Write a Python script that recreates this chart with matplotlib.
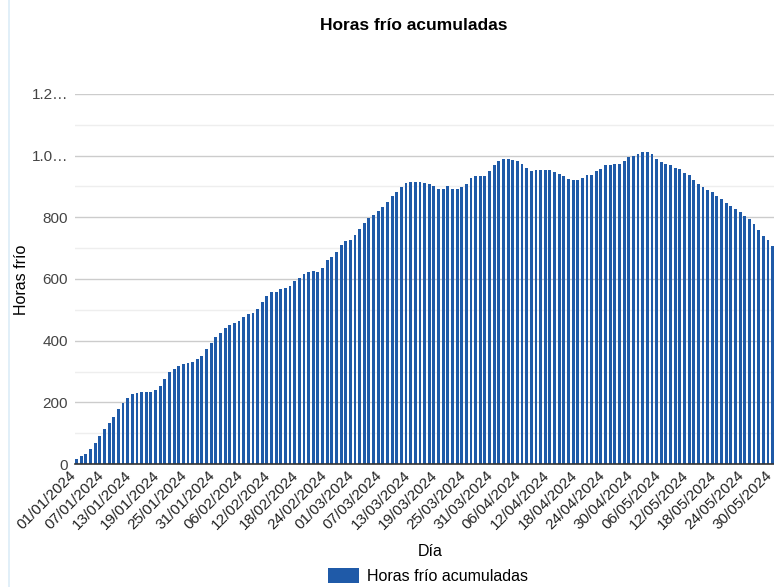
import numpy as np
import pandas as pd
import matplotlib
matplotlib.use('Agg')
import matplotlib.pyplot as plt
import matplotlib.transforms as mtransforms
from matplotlib.lines import Line2D

plt.rcParams['font.family'] = ['Liberation Sans', 'DejaVu Sans']

# Horas frío acumuladas, un valor por día desde el 01/01/2024
horas_frio = [
    17, 26, 32, 50, 69, 91, 113, 134, 153, 177, 197, 214, 226, 229, 233, 233,
    233, 239, 254, 277, 298, 307, 318, 323, 328, 331, 339, 350, 372, 391, 411,
    424, 440, 450, 458, 465, 476, 485, 489, 502, 526, 546, 558, 558, 567, 570,
    578, 593, 602, 616, 624, 627, 622, 637, 663, 672, 687, 709, 724, 726, 743,
    761, 782, 798, 809, 822, 832, 849, 869, 881, 898, 910, 916, 916, 913, 912,
    909, 901, 892, 892, 901, 892, 892, 897, 909, 928, 934, 934, 934, 949, 970,
    982, 989, 989, 985, 982, 973, 959, 949, 952, 952, 952, 952, 948, 941, 933,
    924, 921, 921, 929, 937, 937, 949, 957, 970, 970, 973, 973, 982, 996,
    998, 1004, 1012, 1012, 1004, 989, 981, 973, 969, 961, 957, 945, 938, 922,
    909, 897, 889, 881, 869, 858, 846, 837, 826, 818, 805, 794, 777, 759, 741,
    727, 708,
]
fechas = pd.date_range('2024-01-01', periods=len(horas_frio), freq='D')
paso_etiquetas = 6

y_ticks = [0, 200, 400, 600, 800, 1000, 1200]
y_tick_labels = ['0', '200', '400', '600', '800', '1.0\u2026', '1.2\u2026']

W, H = 774, 587
fig = plt.figure(figsize=(W / 100, H / 100), dpi=100)
ax = fig.add_axes([75 / W, 123 / H, (W - 75) / W, (464 - 94) / H])

x = np.arange(len(horas_frio))
barras = ax.bar(x, horas_frio, width=0.62, color='#1f5aa8', zorder=3,
                label='Horas frío acumuladas')

ax.set_xlim(-0.35, 150.3)
ax.set_ylim(0, 1200)

# rejilla principal y secundaria
ax.set_yticks(y_ticks)
ax.set_yticklabels(y_tick_labels)
ax.set_yticks(np.arange(100, 1200, 200), minor=True)
ax.grid(axis='y', which='major', color='#cccccc', linewidth=1, zorder=0)
ax.grid(axis='y', which='minor', color='#eeeeee', linewidth=1, zorder=0)
ax.tick_params(axis='y', which='both', length=0, pad=5, labelsize=11,
               labelcolor='#444444')

ticks_x = x[::paso_etiquetas]
ax.set_xticks(ticks_x)
ax.set_xticklabels([fechas[i].strftime('%d/%m/%Y') for i in ticks_x],
                   rotation=45, ha='right', va='top', rotation_mode='anchor',
                   fontsize=11, color='#222222')
ax.tick_params(axis='x', length=0, pad=3)
desplaza = mtransforms.ScaledTranslation(-8 / 100, 0, fig.dpi_scale_trans)
for lbl in ax.get_xticklabels():
    lbl.set_transform(lbl.get_transform() + desplaza)

for s in ['top', 'right', 'left']:
    ax.spines[s].set_visible(False)
ax.spines['bottom'].set_color('#333333')
ax.spines['bottom'].set_linewidth(1.2)
ax.spines['bottom'].set_zorder(4)

fig.text(414 / W, 1 - 25 / H, 'Horas frío acumuladas', ha='center',
         va='center', fontsize=12.5, fontweight='bold', color='#000000')
fig.text(22 / W, 1 - 280 / H, 'Horas frío', rotation=90, ha='center',
         va='center', fontsize=11.5, color='#000000')
fig.text(430 / W, 1 - 551 / H, 'Día', ha='center', va='center',
         fontsize=11.5, color='#000000')

ax.legend(handles=[barras], loc='center',
          bbox_to_anchor=(428 / W, 1 - 576 / H), bbox_transform=fig.transFigure,
          frameon=False, fontsize=11.5, handlelength=2.0, handleheight=1.1,
          handletextpad=0.5, borderpad=0)

# borde claro del contenedor a la izquierda
fig.add_artist(Line2D([9 / W, 9 / W], [0, 1], transform=fig.transFigure,
                      color='#dcecf7', linewidth=1.2))

fig.savefig('out.png', dpi=100)
